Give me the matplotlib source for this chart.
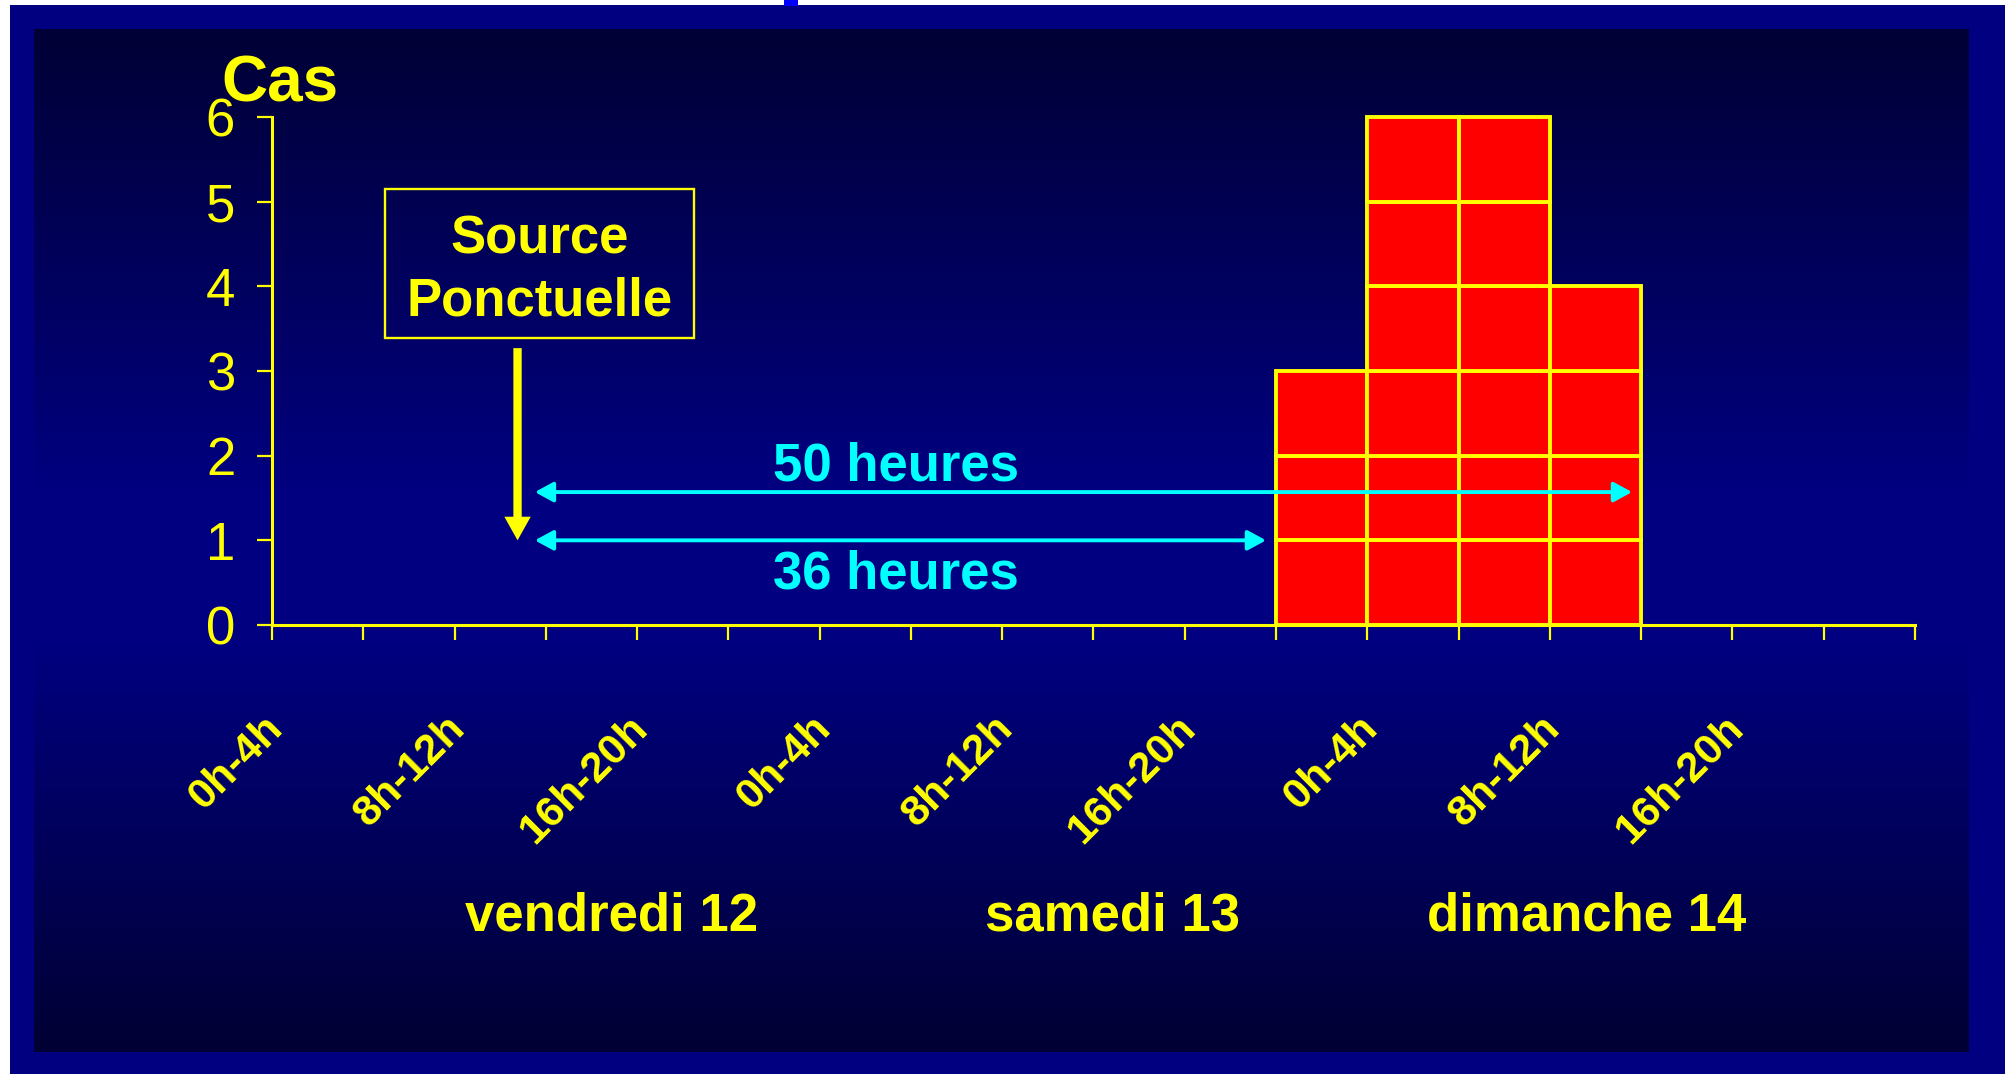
import numpy as np
import matplotlib
matplotlib.use("Agg")
import matplotlib.pyplot as plt
from matplotlib.patches import Rectangle, FancyArrowPatch
from matplotlib.colors import LinearSegmentedColormap

plt.rcParams['font.family'] = ['Liberation Sans', 'DejaVu Sans']

# cas par tranche de 4 heures, vendredi 0h -> dimanche 24h
cas = [0, 0, 0, 0, 0, 0, 0, 0, 0, 0, 0, 3, 6, 6, 4, 0, 0, 0]
heures = ['0h-4h', '8h-12h', '16h-20h'] * 3
pos_heures = [0, 2, 4, 6, 8, 10, 12, 14, 16]
jours = ['vendredi 12', 'samedi 13', 'dimanche 14']
pos_jours = [3.72, 9.21, 14.4]

jaune = '#ffff00'
cyan = '#00ffff'

W, H = 2006, 1074
fig = plt.figure(figsize=(W / 100, H / 100), dpi=100)
fig.patch.set_facecolor('white')

# fond : cadre bleu + degrade
bg = fig.add_axes([0, 0, 1, 1])
bg.set_xlim(0, W)
bg.set_ylim(H, 0)
bg.axis('off')
bg.add_patch(Rectangle((10, 5), W - 10, H - 5, color='#000080', lw=0, zorder=1))
bg.add_patch(Rectangle((784, 0), 14, 6, color='#0000ff', lw=0, zorder=1))
grad = LinearSegmentedColormap.from_list(
    'fond', [(0, '#000036'), (0.45, '#000080'), (0.6, '#000080'), (1, '#000034')])
bg.imshow(np.linspace(0, 1, 256).reshape(-1, 1), cmap=grad, aspect='auto',
          extent=(34, 1969, 1052, 29), origin='upper', interpolation='bilinear',
          zorder=2)
bg.set_xlim(0, W)
bg.set_ylim(H, 0)

# axes du graphique
x0, x1, y0, y6 = 272, 1915, 625, 117
ax = fig.add_axes([x0 / W, (H - y0) / H, (x1 - x0) / W, (y0 - y6) / H])
ax.set_facecolor('none')
ax.set_xlim(0, 18)
ax.set_ylim(0, 6)
for s in ['top', 'right']:
    ax.spines[s].set_visible(False)
for s in ['left', 'bottom']:
    ax.spines[s].set_color(jaune)
    ax.spines[s].set_linewidth(2.2)
ax.set_xticks(range(19))
ax.set_xticklabels([])
ax.set_yticks(range(7))
ax.tick_params(axis='both', colors=jaune, direction='out', width=1.6, length=10.5)
ax.tick_params(axis='y', labelsize=38, pad=16, labelcolor=jaune)

# histogramme : une case par cas
for k in range(1, max(cas) + 1):
    xs = [i for i, c in enumerate(cas) if c >= k]
    ax.bar(xs, [1] * len(xs), bottom=k - 1, width=1, align='edge',
           color='#ff0000', edgecolor=jaune, linewidth=2.8, clip_on=False, zorder=3)

# libelles des tranches horaires
for p, lab in zip(pos_heures, heures):
    ax.text(p + 0.05, -1.15, lab, rotation=45, rotation_mode='anchor',
            ha='right', va='center', fontsize=31, fontweight='bold',
            color=jaune, clip_on=False)

for p, lab in zip(pos_jours, jours):
    ax.text(p, -3.61, lab, ha='center', va='baseline', fontsize=38,
            fontweight='bold', color=jaune, clip_on=False)

fig.text(221 / W, (H - 101) / H, 'Cas', fontsize=46, fontweight='bold',
         color=jaune, ha='left', va='baseline')

# encadre source ponctuelle
ax.add_patch(Rectangle((1.238, 3.388), 4.623 - 1.238, 5.148 - 3.388, fill=False,
                       edgecolor=jaune, lw=1.7, clip_on=False, zorder=4))
ax.text(2.936, 4.39, 'Source', ha='center', va='baseline', fontsize=38,
        fontweight='bold', color=jaune)
ax.text(2.936, 3.66, 'Ponctuelle', ha='center', va='baseline', fontsize=38,
        fontweight='bold', color=jaune)

ax.add_patch(FancyArrowPatch((2.69, 3.27), (2.69, 1.0),
                             arrowstyle='simple,head_length=17,head_width=19,tail_width=6',
                             mutation_scale=1, color=jaune, shrinkA=0, shrinkB=0,
                             lw=0, zorder=5))

# durees d'incubation
for xa, xb, ya in [(2.88, 14.9, 1.57), (2.88, 10.89, 1.0)]:
    ax.add_patch(FancyArrowPatch((xa, ya), (xb, ya),
                                 arrowstyle='<|-|>,head_length=11,head_width=6',
                                 mutation_scale=1, color=cyan, lw=2.8,
                                 shrinkA=0, shrinkB=0, zorder=6, clip_on=False))
ax.text(6.84, 1.71, '50 heures', ha='center', va='baseline', fontsize=38,
        fontweight='bold', color=cyan, zorder=7)
ax.text(6.84, 0.437, '36 heures', ha='center', va='baseline', fontsize=38,
        fontweight='bold', color=cyan, zorder=7)

fig.savefig('out.png', dpi=100, facecolor=fig.get_facecolor())
